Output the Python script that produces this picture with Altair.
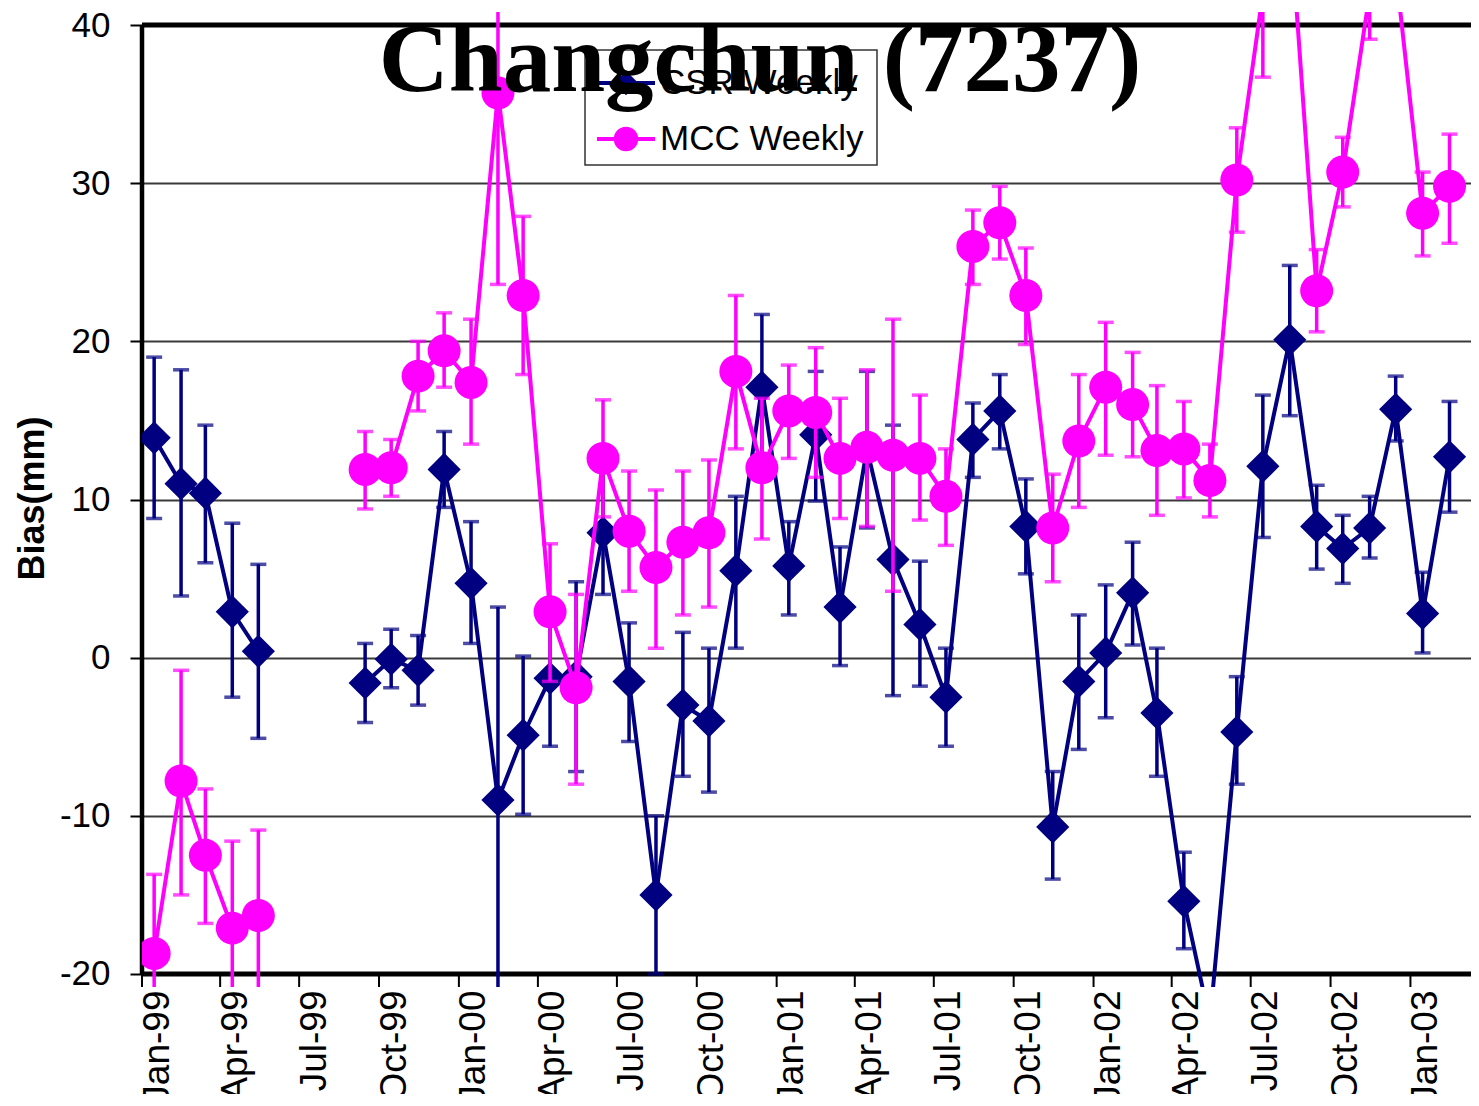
import altair as alt
import pandas as pd

# ---------------- data ----------------
months = [
    "1999-01", "1999-02", "1999-03", "1999-04", "1999-05",
    "1999-09", "1999-10", "1999-11", "1999-12",
    "2000-01", "2000-02", "2000-03", "2000-04", "2000-05", "2000-06",
    "2000-07", "2000-08", "2000-09", "2000-10", "2000-11", "2000-12",
    "2001-01", "2001-02", "2001-03", "2001-04", "2001-05", "2001-06",
    "2001-07", "2001-08", "2001-09", "2001-10", "2001-11", "2001-12",
    "2002-01", "2002-02", "2002-03", "2002-04", "2002-05", "2002-06",
    "2002-07", "2002-08", "2002-09", "2002-10", "2002-11", "2002-12",
    "2003-01", "2003-02",
]
segment = [1] * 5 + [2] * 42

csr = [13.9, 11.0, 10.4, 2.9, 0.4,
       -1.6, -0.1, -0.8, 11.9,
       4.7, -9.0, -4.9, -1.3, -1.2, 7.9, -1.5, -15.0, -3.0, -4.0, 5.5, 17.1,
       5.8, 14.1, 3.2, 13.2, 6.2, 2.1, -2.5, 13.8, 15.6, 8.3, -10.7, -1.5,
       0.3, 4.1, -3.5, -15.4, -23.0, -4.7, 12.1, 20.1, 8.3, 6.9, 8.2, 15.7,
       2.8, 12.7]
csr_lo = [8.8, 3.9, 6.0, -2.5, -5.1,
          -4.1, -1.9, -3.0, 9.5,
          0.9, -21.2, -9.9, -5.6, -7.2, 4.0, -5.3, -20.0, -7.5, -8.5, 0.6, 12.5,
          2.7, 9.9, -0.5, 8.2, -2.4, -1.8, -5.6, 11.4, 13.2, 5.3, -14.0, -5.8,
          -3.8, 0.8, -7.5, -18.4, -26.0, -8.0, 7.6, 15.3, 5.6, 4.7, 6.3, 13.7,
          0.3, 9.2]
csr_hi = [19.0, 18.2, 14.7, 8.5, 5.9,
          0.9, 1.8, 1.4, 14.3,
          8.6, 3.2, 0.1, 3.0, 4.8, 11.8, 2.2, -10.0, 1.6, 0.6, 10.2, 21.7,
          8.6, 18.1, 7.0, 18.1, 14.7, 6.1, 0.6, 16.1, 17.9, 11.3, -7.2, 2.7,
          4.6, 7.3, 0.6, -12.3, -21.0, -1.2, 16.6, 24.8, 10.9, 9.0, 10.2, 17.8,
          5.4, 16.2]

mcc = [-18.7, -7.8, -12.5, -17.1, -16.3,
       11.9, 12.0, 17.8, 19.4,
       17.4, 35.7, 22.9, 2.9, -1.9, 12.6, 8.0, 5.7, 7.3, 7.9, 18.1, 12.0,
       15.6, 15.5, 12.6, 13.3, 12.8, 12.6, 10.2, 26.0, 27.5, 22.9, 8.2, 13.7,
       17.1, 16.0, 13.1, 13.2, 11.2, 30.2, 42.0, 47.0, 23.2, 30.7, 42.0, 43.5,
       28.1, 29.8]
mcc_lo = [-23.7, -15.0, -16.8, -22.6, -21.7,
          9.4, 10.2, 15.6, 17.1,
          13.5, 23.6, 17.9, -1.5, -8.0, 8.9, 4.2, 0.6, 2.7, 3.2, 13.2, 7.5,
          12.6, 11.4, 8.8, 8.3, 4.2, 8.7, 7.1, 23.6, 25.2, 19.8, 4.8, 9.5,
          12.8, 12.7, 9.0, 10.1, 8.9, 26.9, 36.7, 44.0, 20.6, 28.5, 39.1, 41.0,
          25.4, 26.2]
mcc_hi = [-13.7, -0.8, -8.3, -11.6, -10.9,
          14.3, 13.8, 20.0, 21.8,
          21.4, 47.8, 27.9, 7.2, 4.0, 16.3, 11.8, 10.6, 11.8, 12.5, 22.9, 16.4,
          18.5, 19.6, 16.4, 18.2, 21.4, 16.6, 13.2, 28.3, 29.8, 25.9, 11.6, 17.9,
          21.2, 19.3, 17.2, 16.2, 13.5, 33.5, 47.3, 50.0, 25.8, 32.9, 44.9, 46.0,
          30.7, 33.1]

tick_labels = ["Jan-99", "Apr-99", "Jul-99", "Oct-99", "Jan-00", "Apr-00",
               "Jul-00", "Oct-00", "Jan-01", "Apr-01", "Jul-01", "Oct-01",
               "Jan-02", "Apr-02", "Jul-02", "Oct-02", "Jan-03"]
y_ticks = [-20, -10, 0, 10, 20, 30, 40]
series_names = ["CSR Weekly", "MCC Weekly"]
title_text = "Changchun (7237)"

NAVY = "#000080"
MAGENTA = "#FF00FF"

# ---------------- tables ----------------
dates = [m + "-15" for m in months]
csr_df = pd.DataFrame({"date": dates, "value": csr, "lo": csr_lo, "hi": csr_hi, "seg": segment})
mcc_df = pd.DataFrame({"date": dates, "value": mcc, "lo": mcc_lo, "hi": mcc_hi, "seg": segment})

tick_ts = [pd.to_datetime(t, format="%b-%y") for t in tick_labels]
tick_dates = [t.strftime("%Y-%m-%d") for t in tick_ts]
tick_values = [alt.DateTime(year=t.year, month=t.month, date=1, utc=True) for t in tick_ts]

Y_MIN, Y_MAX = -20.822, 40.822

xscale = alt.Scale(type="utc", domain=[alt.DateTime(year=1999, month=1, date=1, utc=True),
                                       alt.DateTime(year=2003, month=3, date=11, hours=18, utc=True)])
yscale = alt.Scale(domain=[Y_MIN, Y_MAX], nice=False, zero=False)

xaxis = alt.Axis(values=tick_values, labelExpr="utcFormat(datum.value, '%b-%y')", title=None,
                 grid=False, domain=False, ticks=False, tickSize=0, labelAngle=270,
                 labelAlign="right", labelBaseline="top", labelPadding=3, labelOffset=-3,
                 labelFontSize=37, labelFont="Liberation Sans", labelColor="black",
                 labelOverlap=False, labelFlush=False)
yaxis = alt.Axis(values=y_ticks, labelExpr="toString(datum.value)", title="Bias(mm)",
                 grid=True, gridColor="#3a3a3a", gridWidth=2,
                 domain=False, ticks=True, tickSize=12, tickWidth=2, tickColor="black",
                 labelFontSize=35, labelFont="Liberation Sans", labelColor="black",
                 labelPadding=20, labelFlush=False,
                 titleFont="Liberation Sans", titleFontSize=36, titleFontWeight="bold",
                 titleColor="black", titleX=-110, titleY=486, titleAngle=270,
                 titleAlign="center", titleBaseline="middle")

X = alt.X("date:T", scale=xscale, axis=xaxis)


def Yf(field):
    return alt.Y(field, scale=yscale, axis=yaxis)


layers = []

# frame
frame_h = pd.DataFrame({"y": [-20, 40]})
layers.append(alt.Chart(frame_h).mark_rule(color="black", strokeWidth=5).encode(y=Yf("y:Q")))
frame_l = pd.DataFrame({"date": [tick_dates[0]], "y": [-20], "y2": [40]})
layers.append(alt.Chart(frame_l).mark_rule(color="black", strokeWidth=4.5)
              .encode(x=X, y=Yf("y:Q"), y2="y2:Q"))
ticks_df = pd.DataFrame({"date": tick_dates, "y": [-20] * len(tick_dates), "y2": [Y_MIN] * len(tick_dates)})
layers.append(alt.Chart(ticks_df).mark_rule(color="black", strokeWidth=2)
              .encode(x=X, y=Yf("y:Q"), y2="y2:Q"))


def series(df, color, shape, size):
    base = alt.Chart(df)
    return [
        base.mark_line(color=color, strokeWidth=4, clip=True).encode(x=X, y=Yf("value:Q"), detail="seg:N"),
        base.mark_rule(color=color, strokeWidth=3.5, clip=True).encode(x=X, y=Yf("lo:Q"), y2="hi:Q"),
        base.mark_tick(color=color, orient="horizontal", size=16, thickness=3.5, clip=True).encode(x=X, y=Yf("lo:Q")),
        base.mark_tick(color=color, orient="horizontal", size=16, thickness=3.5, clip=True).encode(x=X, y=Yf("hi:Q")),
        base.mark_point(shape=shape, filled=True, size=size, color=color, opacity=1, clip=True)
            .encode(x=X, y=Yf("value:Q")),
    ]


layers += series(csr_df, NAVY, "diamond", 1100)
layers += series(mcc_df, MAGENTA, "circle", 1089)

# legend (manual, line + marker like the original)
box_df = pd.DataFrame({"k": [0]})
layers.append(alt.Chart(box_df).mark_rect(fill="white", stroke="#333333", strokeWidth=1.5)
              .encode(x=alt.value(443), x2=alt.value(735), y=alt.value(38), y2=alt.value(153)))
for name, color, shape, ly in [(series_names[0], NAVY, "diamond", 71), (series_names[1], MAGENTA, "circle", 127)]:
    ldf = pd.DataFrame({"label": [name]})
    lc = alt.Chart(ldf)
    layers.append(lc.mark_rule(color=color, strokeWidth=4)
                  .encode(x=alt.value(455), x2=alt.value(513), y=alt.value(ly)))
    layers.append(lc.mark_point(shape=shape, filled=True, size=600, color=color, opacity=1)
                  .encode(x=alt.value(484), y=alt.value(ly)))
    layers.append(lc.mark_text(font="Liberation Sans", fontSize=35, color="black", align="left",
                               baseline="middle")
                  .encode(x=alt.value(518), y=alt.value(ly), text="label:N"))

# title (overlaps the legend as in the original)
title_df = pd.DataFrame({"t": [title_text]})
layers.append(alt.Chart(title_df).mark_text(font="Liberation Serif", fontWeight="bold", fontSize=97,
                                             color="black", align="center", baseline="alphabetic")
              .encode(x=alt.value(618), y=alt.value(79), text="t:N"))

chart = alt.layer(*layers).properties(
    width=1329, height=975,
    autosize=alt.AutoSizeParams(type="none"),
    padding={"left": 134, "top": 4, "right": 0, "bottom": 107},
    background="white",
).configure_view(strokeWidth=0)

chart.save("out.html", embed_options={"renderer": "svg", "actions": False})
